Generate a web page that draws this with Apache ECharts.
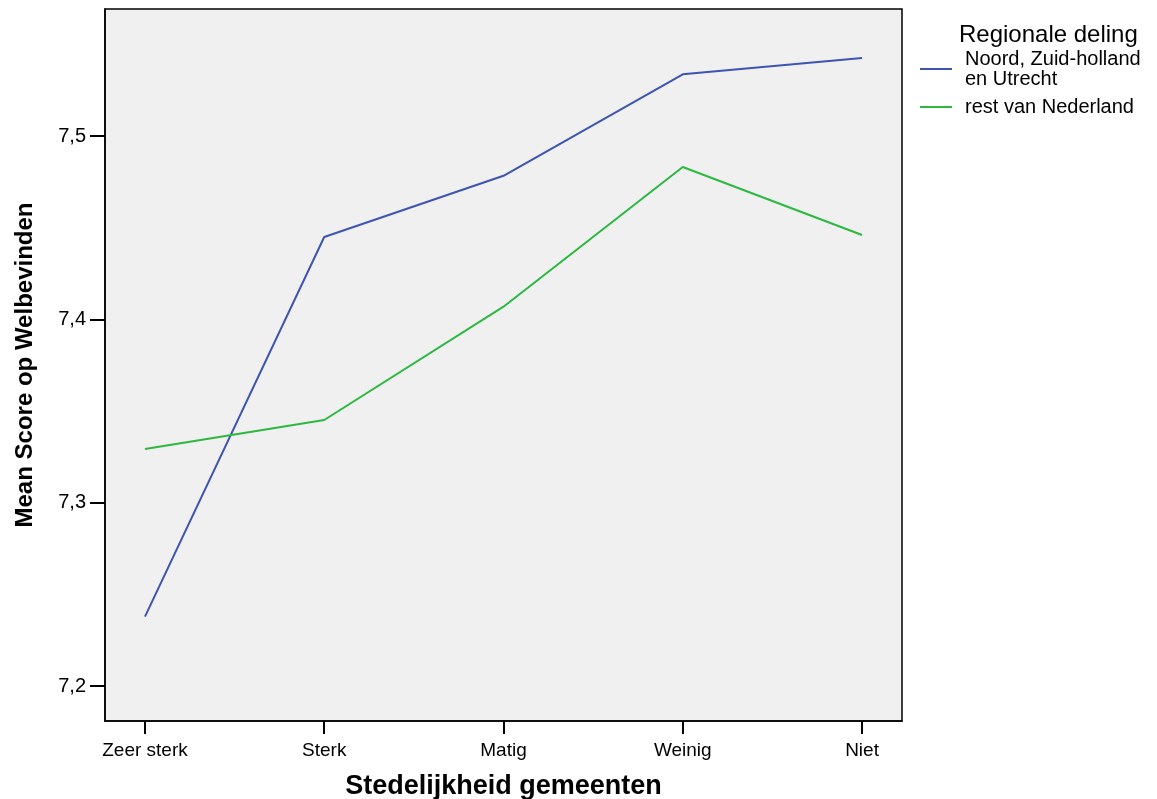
<!DOCTYPE html>
<html>
<head>
<meta charset="utf-8">
<script src="https://cdn.jsdelivr.net/npm/echarts@6/dist/echarts.min.js"></script>
<style>
html,body{margin:0;padding:0;background:#fff;overflow:hidden;}
#c{width:1157px;height:799px;}
</style>
</head>
<body>
<div id="c"></div>
<script>
const categories = ['Zeer sterk', 'Sterk', 'Matig', 'Weinig', 'Niet'];
const seriesNames = ['Noord, Zuid-holland\nen Utrecht', 'rest van Nederland'];
const noordValues = [7.2378, 7.4449, 7.4783, 7.5337, 7.5426];
const restValues = [7.3293, 7.3451, 7.4069, 7.4831, 7.4460];
const yTicks = [7.2, 7.3, 7.4, 7.5];

const toPairs = vals => vals.map((v, i) => [i, v]);
const font = 'Liberation Sans, Arial, sans-serif';

const chart = echarts.init(document.getElementById('c'), null, {renderer: 'canvas'});
chart.setOption({
  animation: false,
  backgroundColor: '#ffffff',
  title: {
    text: 'Regionale deling',
    left: 954, top: 18,
    textStyle: {fontFamily: font, fontSize: 24, fontWeight: 'normal', color: '#000'}
  },
  legend: {
    orient: 'vertical',
    left: 915, top: 44,
    itemWidth: 32, itemHeight: 2, itemGap: 8,
    icon: 'rect',
    textStyle: {fontFamily: font, fontSize: 20, color: '#000', lineHeight: 20, padding: [0,0,0,8]},
    data: seriesNames
  },
  grid: {
    left: 105, top: 9, width: 797, height: 712,
    outerBoundsMode: 'none', containLabel: false,
    show: true, backgroundColor: '#f0f0f0', borderColor: '#000', borderWidth: 1.5
  },
  xAxis: {
    type: 'value',
    min: -0.223, max: 4.223,
    name: 'Stedelijkheid gemeenten',
    nameLocation: 'middle', nameGap: 52,
    nameTextStyle: {fontFamily: font, fontSize: 27, fontWeight: 'bold', color: '#000'},
    axisLine: {show: true, onZero: false, lineStyle: {color: '#000', width: 1.5}},
    axisTick: {show: true, length: 13, lineStyle: {color: '#000', width: 2}, customValues: [0,1,2,3,4]},
    axisLabel: {customValues: [0,1,2,3,4], formatter: v => categories[Math.round(v)], fontFamily: font, fontSize: 19, color: '#000', margin: 20},
    splitLine: {show: false}
  },
  yAxis: {
    type: 'value',
    min: 7.1809, max: 7.5693,
    name: 'Mean Score op Welbevinden',
    nameLocation: 'middle', nameGap: 68,
    nameTextStyle: {fontFamily: 'Liberation Sans Narrow, Arial Narrow, ' + font, fontSize: 24, fontWeight: 'bold', color: '#000'},
    axisLine: {show: true, onZero: false, lineStyle: {color: '#000', width: 1.5}},
    axisTick: {show: true, length: 15, lineStyle: {color: '#000', width: 2}, customValues: yTicks},
    axisLabel: {customValues: yTicks, formatter: v => v.toFixed(1).replace('.', ','), fontFamily: font, fontSize: 20, color: '#000', margin: 19},
    splitLine: {show: false}
  },
  series: [
    {name: seriesNames[0], type: 'line', data: toPairs(noordValues), showSymbol: false, symbol: 'none',
     lineStyle: {color: '#3d55b0', width: 2}, itemStyle: {color: '#3d55b0'}},
    {name: seriesNames[1], type: 'line', data: toPairs(restValues), showSymbol: false, symbol: 'none',
     lineStyle: {color: '#2cb841', width: 2}, itemStyle: {color: '#2cb841'}}
  ]
});
</script>
</body>
</html>
